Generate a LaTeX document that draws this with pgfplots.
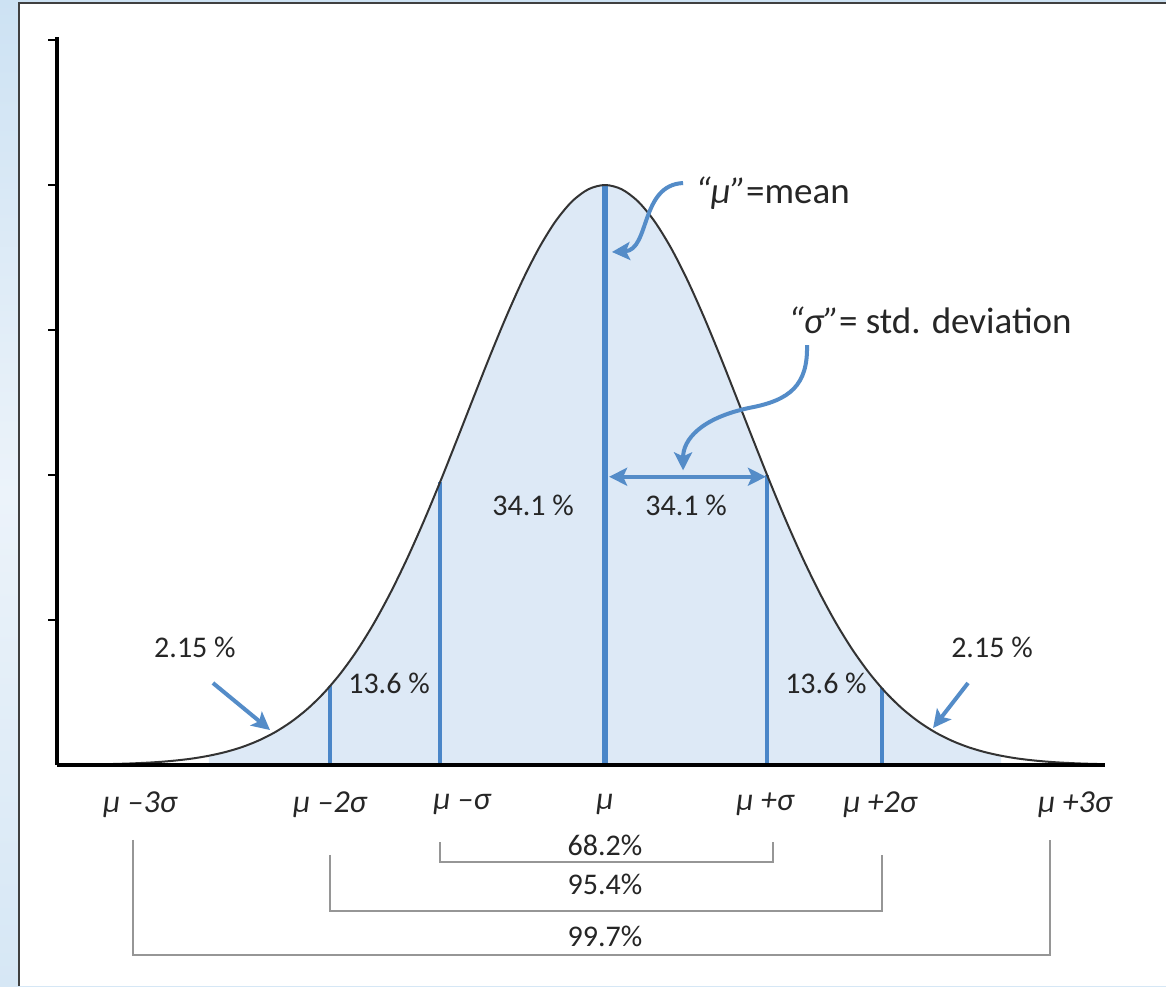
\documentclass[border=0pt]{standalone}
\usepackage{fontspec}
\setmainfont{Carlito}
\usepackage{pgfplots}
\usepackage{pgfplotstable}
\pgfplotsset{compat=1.18}
\usetikzlibrary{arrows.meta}

\definecolor{curvefill}{RGB}{221,233,246}
\definecolor{sigblue}{RGB}{74,134,200}
\definecolor{arrblue}{RGB}{84,140,200}
\definecolor{txt}{RGB}{38,38,38}
\definecolor{brk}{RGB}{150,150,150}
\definecolor{framebg}{RGB}{205,226,243}

% bell curve, x in units of sigma from the mean, peak height = 1
\pgfplotstableread{
x     y
-3.3  0.0004
-3.2  0.0006
-3.1  0.0010
-3.0  0.0016
-2.9  0.0024
-2.8  0.0036
-2.7  0.0053
-2.6  0.0078
-2.5  0.0112
-2.4  0.0160
-2.3  0.0224
-2.2  0.0309
-2.1  0.0421
-2.0  0.0565
-1.9  0.0748
-1.8  0.0975
-1.7  0.1254
-1.6  0.1590
-1.5  0.1986
-1.4  0.2446
-1.3  0.2970
-1.2  0.3554
-1.1  0.4192
-1.0  0.4875
-0.9  0.5589
-0.8  0.6314
-0.7  0.7033
-0.6  0.7721
-0.5  0.8356
-0.4  0.8914
-0.3  0.9374
-0.2  0.9717
-0.1  0.9928
 0.0  1.0000
 0.1  0.9928
 0.2  0.9717
 0.3  0.9374
 0.4  0.8914
 0.5  0.8356
 0.6  0.7721
 0.7  0.7033
 0.8  0.6314
 0.9  0.5589
 1.0  0.4875
 1.1  0.4192
 1.2  0.3554
 1.3  0.2970
 1.4  0.2446
 1.5  0.1986
 1.6  0.1590
 1.7  0.1254
 1.8  0.0975
 1.9  0.0748
 2.0  0.0565
 2.1  0.0421
 2.2  0.0309
 2.3  0.0224
 2.4  0.0160
 2.5  0.0112
 2.6  0.0078
 2.7  0.0053
 2.8  0.0036
 2.9  0.0024
 3.0  0.0016
}\bellcurve

\begin{document}
\begin{tikzpicture}[x=1pt,y=1pt]
\useasboundingbox (0,0) rectangle (583,493);
% frame behind the panel
\shade[top color=framebg, bottom color={rgb,255:red,214;green,231;blue,245},
       middle color={rgb,255:red,236;green,243;blue,250}] (0,0) rectangle (583,493);
\fill[white] (9.5,0) rectangle (583,491.5);
\draw[black!75, line width=0.6pt] (9.5,0) -- (9.5,491.5) -- (583,491.5);

\begin{axis}[
  at={(28.5pt,110.5pt)}, anchor=south west,
  scale only axis, width=524pt, height=364pt,
  xmin=-3.321, xmax=3.030, ymin=0, ymax=1.2552,
  axis x line=bottom, axis y line=left,
  axis line style={-, line width=1.8pt, black},
  axis on top,
  clip=false,
  ytick={0.25,0.5,0.75,1,1.25}, yticklabels={},
  ytick align=outside,
  major tick length=4.5pt,
  ytick style={line width=1.4pt, black},
  xtick={-2.818,-1.667,-0.867,0,0.970,1.667,2.848},
  xticklabels={{μ –3σ},{μ –2σ},{μ –σ},{μ},{μ +σ},{μ +2σ},{μ +3σ}},
  xtick style={draw=none},
  xticklabel style={anchor=center, yshift=-17.5pt,
    font=\fontsize{16}{19}\selectfont\itshape, text=txt},
]
% shaded area under the curve
\addplot[draw=none, fill=curvefill, restrict x to domain=-2.42:2.42]
  table {\bellcurve} \closedcycle;

% sigma boundaries
\addplot[sigblue, line width=2.6pt] coordinates {(0,0) (0,1.0)};
\addplot[sigblue, line width=1.6pt] coordinates {(-1.0,0) (-1.0,0.4875)};
\addplot[sigblue, line width=1.6pt] coordinates {(0.982,0) (0.982,0.500)};
\addplot[sigblue, line width=1.6pt] coordinates {(-1.667,0) (-1.667,0.136)};
\addplot[sigblue, line width=1.6pt] coordinates {(1.679,0) (1.679,0.132)};

% the curve
\addplot[black!80, line width=1pt, smooth] table {\bellcurve};

% arrows
\draw[arrblue, line width=2pt, -{Stealth[length=9pt,width=9pt,inset=2pt]}]
  (axis cs:0.473,1.0034) .. controls (axis cs:0.212,1.0) and (axis cs:0.273,0.888)
  .. (axis cs:0.042,0.8845);
\draw[arrblue, line width=2pt, -{Stealth[length=9pt,width=9pt,inset=2pt]}]
  (axis cs:1.224,0.724) .. controls (axis cs:1.230,0.655) and (axis cs:1.121,0.629)
  .. (axis cs:0.879,0.616) .. controls (axis cs:0.576,0.598) and (axis cs:0.473,0.560)
  .. (axis cs:0.473,0.508);
\draw[arrblue, line width=2pt,
  {Stealth[length=9pt,width=9pt,inset=2pt]}-{Stealth[length=9pt,width=9pt,inset=2pt]}]
  (axis cs:0.025,0.497) -- (axis cs:0.975,0.497);
\draw[arrblue, line width=2pt, -{Stealth[length=9pt,width=9pt,inset=2pt]}]
  (axis cs:-2.376,0.1414) -- (axis cs:-2.030,0.0603);
\draw[arrblue, line width=2pt, -{Stealth[length=9pt,width=9pt,inset=2pt]}]
  (axis cs:2.200,0.1414) -- (axis cs:1.988,0.0638);

% annotations
\begin{scope}[every node/.style={text=txt, inner sep=0pt}]
\node[anchor=west, font=\fontsize{18.5}{22}\selectfont] at (axis cs:0.545,0.986)
  {\itshape “μ”\upshape=mean};
\node[anchor=west, font=\fontsize{18.5}{22}\selectfont] at (axis cs:1.109,0.766)
  {\itshape “σ”\upshape= std. deviation};
\node[font=\fontsize{15}{18}\selectfont] at (axis cs:-0.436,0.448) {34.1 \%};
\node[font=\fontsize{15}{18}\selectfont] at (axis cs:0.491,0.448) {34.1 \%};
\node[font=\fontsize{15}{18}\selectfont] at (axis cs:-1.309,0.141) {13.6 \%};
\node[font=\fontsize{15}{18}\selectfont] at (axis cs:1.339,0.141) {13.6 \%};
\node[font=\fontsize{15}{18}\selectfont] at (axis cs:-2.485,0.202) {2.15 \%};
\node[font=\fontsize{15}{18}\selectfont] at (axis cs:2.345,0.202) {2.15 \%};

% coverage brackets below the axis
\draw[brk, line width=1.2pt] (axis cs:-1,-0.133) |- (axis cs:1.018,-0.167) -- (axis cs:1.018,-0.133);
\draw[brk, line width=1.2pt] (axis cs:-1.667,-0.155) |- (axis cs:1.679,-0.252) -- (axis cs:1.679,-0.155);
\draw[brk, line width=1.2pt] (axis cs:-2.861,-0.129) |- (axis cs:2.697,-0.328) -- (axis cs:2.697,-0.129);
\node[font=\fontsize{15}{18}\selectfont] at (axis cs:0,-0.138) {68.2\%};
\node[font=\fontsize{15}{18}\selectfont] at (axis cs:0,-0.205) {95.4\%};
\node[font=\fontsize{15}{18}\selectfont] at (axis cs:0,-0.295) {99.7\%};
\end{scope}
\end{axis}
\end{tikzpicture}
\end{document}
